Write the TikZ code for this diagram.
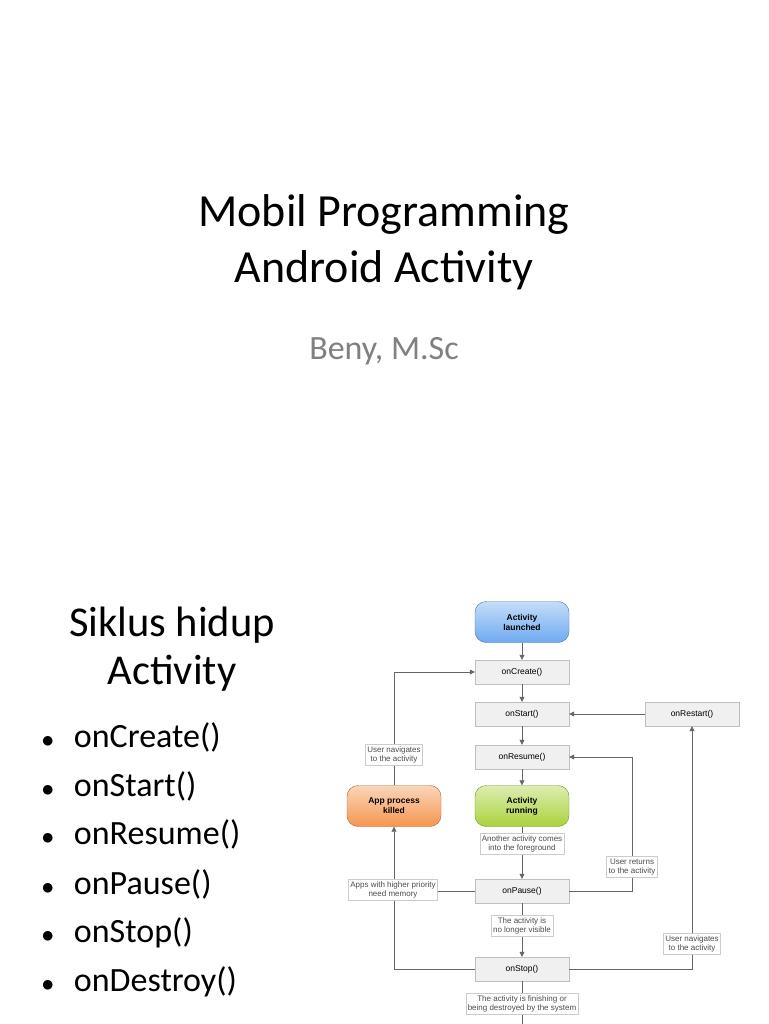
\documentclass[tikz,border=0pt]{standalone}
\usepackage{fontspec}
\setmainfont{Carlito}
\newfontfamily\dia{Liberation Sans}
\usetikzlibrary{arrows.meta}
\definecolor{cblue}{RGB}{110,170,240}
\definecolor{cgreen}{RGB}{170,210,60}
\definecolor{corange}{RGB}{245,150,80}
\begin{document}
\begin{tikzpicture}[x=1pt,y=-1pt,
 box/.style={draw=black!25,fill=black!6,minimum width=94pt,minimum height=24pt,font=\dia\fontsize{8.5}{10}\selectfont,inner sep=0pt},
 pill/.style={draw=#1!70!black,rounded corners=11pt,minimum width=94pt,minimum height=41pt,font=\dia\bfseries\fontsize{8.5}{10}\selectfont,align=center,inner sep=0pt,top color=#1!40!white,bottom color=#1},
 lab/.style={draw=black!20,fill=white,font=\dia\fontsize{8}{9.5}\selectfont,text=black!70,align=center,inner sep=2pt},
 ln/.style={draw=black!60,line width=0.6pt},
 ar/.style={ln,-{Triangle[length=5pt,width=5pt]}},
 big/.style={font=\fontsize{42.5}{46}\selectfont},
 bul/.style={font=\fontsize{34}{36}\selectfont,anchor=west}]
\useasboundingbox (0,0) rectangle (768,1024);
\fill[white] (0,0) rectangle (768,1024);
\node[font=\fontsize{46}{50}\selectfont] (t1) at (384,214) {Mobil Programming};
\node[font=\fontsize{46}{50}\selectfont] (t2) at (384,270) {Android Activity};
\node[font=\fontsize{34}{36}\selectfont,text=black!50] (au) at (384,351) {Beny, M.Sc};
\node[big] (s1) at (172,625) {Siklus hidup};
\node[big] (s2) at (172,673) {Activity};
\foreach \t/\y [count=\i] in {onCreate()/737,onStart()/786,onResume()/834,onPause()/884,onStop()/933,onDestroy()/982}{
 \node[bul] (b\i) at (38,\y) {$\bullet$\hspace{20pt}\t};}
\node[pill=cblue] (al) at (522,622) {Activity\\launched};
\node[box] (cr) at (522,672) {onCreate()};
\node[box] (st) at (522,714) {onStart()};
\node[box] (re) at (522,757) {onResume()};
\node[pill=cgreen] (ru) at (522,806) {Activity\\running};
\node[box] (pa) at (522,891) {onPause()};
\node[box] (so) at (522,969) {onStop()};
\node[box] (rs) at (692,714) {onRestart()};
\node[pill=corange] (ki) at (394,806) {App process\\killed};
\coordinate (bot) at (522,1024);
\draw[ar] (al) -- (cr);
\draw[ar] (cr) -- (st);
\draw[ar] (st) -- (re);
\draw[ar] (re) -- (ru);
\draw[ar] (ru) -- (pa);
\draw[ar] (pa) -- (so);
\draw[ln] (so) -- (bot);
\draw[ar] (rs) -- (st);
\draw[ar] (pa.east) -| (632,757) -- (re.east);
\draw[ar] (so.east) -| (rs.south);
\draw[ar] (so.west) -| (ki.south);
\draw[ln] (pa.west) -- (394,891);
\draw[ar] (ki.north) |- (cr.west);
\node[lab] (l1) at (522,844) {Another activity comes\\into the foreground};
\node[lab] (l2) at (522,926) {The activity is\\no longer visible};
\node[lab] (l3) at (522,1004) {The activity is finishing or\\being destroyed by the system};
\node[lab] (l4) at (394,755) {User navigates\\to the activity};
\node[lab] (l5) at (393,890) {Apps with higher priority\\need memory};
\node[lab] (l6) at (632,867) {User returns\\to the activity};
\node[lab] (l7) at (692,944) {User navigates\\to the activity};
\end{tikzpicture}
\end{document}
